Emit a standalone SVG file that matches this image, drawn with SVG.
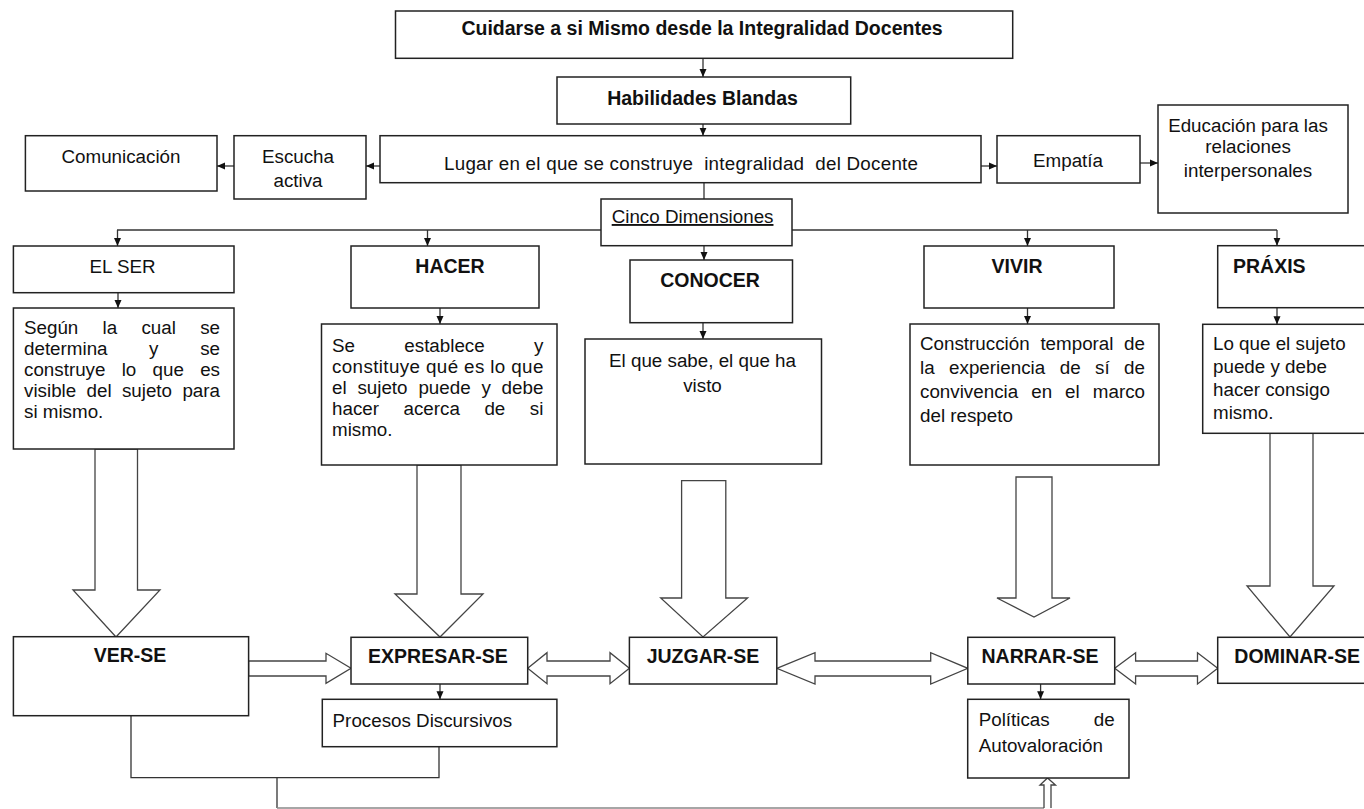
<svg xmlns="http://www.w3.org/2000/svg" width="1364" height="809" viewBox="0 0 1364 809">
<style>
.box{fill:#fff;stroke:#222;stroke-width:1.5}
.t{font-family:"Liberation Sans",Arial,sans-serif;font-size:18.8px;fill:#111}
.b{font-family:"Liberation Sans",Arial,sans-serif;font-size:19.5px;font-weight:bold;fill:#111}
.m{text-anchor:middle}
.e{text-anchor:end}
.ln{fill:none;stroke:#333;stroke-width:1.3}
.ar{fill:none;stroke:#333;stroke-width:1.3;marker-end:url(#ah)}
.blk{fill:#fff;stroke:#444;stroke-width:1.3;stroke-linejoin:miter}
</style>
<defs>
<marker id="ah" markerWidth="8" markerHeight="8" refX="8" refY="4" orient="auto" markerUnits="userSpaceOnUse">
<path d="M0,0.5 L8,4 L0,7.5 Z" fill="#111"/>
</marker>
</defs>
<rect width="1364" height="809" fill="#fff"/>

<g id="connectors">
<line class="ar" x1="703" y1="58.3" x2="703" y2="77"/>
<line class="ar" x1="703" y1="124" x2="703" y2="135.7"/>
<line class="ar" x1="380" y1="166" x2="366" y2="166"/>
<line class="ar" x1="234" y1="166" x2="217" y2="166"/>
<line class="ar" x1="981" y1="166" x2="997" y2="166"/>
<line class="ar" x1="1140" y1="163" x2="1158" y2="163"/>
<line class="ln" x1="704" y1="182.7" x2="704" y2="199"/>
<line class="ln" x1="117" y1="230" x2="1277" y2="230"/>
<line class="ar" x1="117.5" y1="230" x2="117.5" y2="246"/>
<line class="ar" x1="427.5" y1="230" x2="427.5" y2="246"/>
<line class="ar" x1="1027.5" y1="230" x2="1027.5" y2="246"/>
<line class="ar" x1="1277" y1="230" x2="1277" y2="245.7"/>
<line class="ar" x1="704" y1="245.7" x2="704" y2="260"/>
<line class="ar" x1="118" y1="292.7" x2="118" y2="308"/>
<line class="ar" x1="440" y1="308" x2="440" y2="324"/>
<line class="ar" x1="703" y1="322.7" x2="703" y2="339"/>
<line class="ar" x1="1027.5" y1="308" x2="1027.5" y2="324"/>
<line class="ar" x1="1277" y1="307.7" x2="1277" y2="324.3"/>
<line class="ar" x1="440" y1="684" x2="440" y2="699.3"/>
<line class="ar" x1="1040.6" y1="684" x2="1040.6" y2="699.3"/>
<polyline class="ln" points="131,715.7 131,777.7 439,777.7 439,746.7"/>
<line class="ln" x1="277" y1="777.7" x2="277" y2="808"/>
<line x1="277" y1="808" x2="1044" y2="808" stroke="#888" stroke-width="1.3"/>
<path class="blk" d="M95,449 V590 H73 L116,637 L160,590 H137.5 V449 Z"/>
<path class="blk" d="M417,465 V594 H395 L440,637 L483,594 H461 V465 Z"/>
<path class="blk" d="M681.6,480.7 V598 H660.7 L703,637 L747.6,598 H725.8 V480.7 Z"/>
<path class="blk" d="M1016,477 V598 H997 L1034,617 L1070,598 H1052 V477 Z"/>
<path class="blk" d="M1270,433.3 V586 H1247 L1290,637 L1334,586 H1313 V433.3 Z"/>
<path class="blk" d="M248.6,661 H326 V653.3 L351,668.3 L326,683.3 V676 H248.6 Z"/>
<path class="blk" d="M527.7,668.3 L547,652.7 V661 H610 V652.7 L629.4,668.3 L610,683.7 V676 H547 V683.7 Z"/>
<path class="blk" d="M776.8,668.3 L815,652.7 V661 H930.7 V652.7 L967.8,668.3 L930.7,684 V676 H815 V684 Z"/>
<path class="blk" d="M1114.7,668.3 L1135.6,652.7 V661 H1197.5 V652.7 L1217.7,668.3 L1197.5,684 V676 H1135.6 V684 Z"/>
<path class="blk" d="M1044,808 V785 H1040 L1047.5,778 L1055.5,785 H1051 V808"/>
</g>

<g id="title">
<rect class="box" x="395.5" y="11" width="617.2" height="47.3"/>
<text class="b m" x="702" y="35">Cuidarse a si Mismo desde la Integralidad Docentes</text>
</g>
<g id="habilidades">
<rect class="box" x="557" y="77" width="293.7" height="47"/>
<text class="b m" x="702.5" y="104.5">Habilidades Blandas</text>
</g>
<g id="lugar">
<rect class="box" x="380" y="135.7" width="601" height="47"/>
<text class="t" x="444" y="170" textLength="474" lengthAdjust="spacing" style="white-space:pre">Lugar en el que se construye  integralidad  del Docente</text>
</g>
<g id="escucha">
<rect class="box" x="234" y="135.7" width="132" height="63.3"/>
<text class="t m" x="298" y="163">Escucha</text>
<text class="t m" x="298" y="187">activa</text>
</g>
<g id="comunicacion">
<rect class="box" x="25.4" y="135.7" width="191.6" height="55.3"/>
<text class="t m" x="121" y="163">Comunicación</text>
</g>
<g id="empatia">
<rect class="box" x="997" y="135.7" width="143" height="47.3"/>
<text class="t m" x="1068" y="166.7">Empatía</text>
</g>
<g id="educacion">
<rect class="box" x="1158" y="105" width="190" height="108"/>
<text class="t m" x="1248" y="131.7">Educación para las</text>
<text class="t m" x="1248" y="153">relaciones</text>
<text class="t m" x="1248" y="176.7">interpersonales</text>
</g>
<g id="cinco">
<rect class="box" x="601" y="199" width="191" height="46.7"/>
<text class="t" x="611.7" y="223" text-decoration="underline">Cinco Dimensiones</text>
</g>

<g id="elser">
<rect class="box" x="13.4" y="246" width="220.6" height="46.7"/>
<text class="t m" x="122.5" y="273.3">EL SER</text>
</g>
<g id="segun">
<rect class="box" x="13.4" y="308" width="220.6" height="141"/>
<text class="t" x="24" y="334">Según</text><text class="t" x="102.6" y="334">la</text><text class="t" x="141.4" y="334">cual</text><text class="t e" x="220" y="334">se</text>
<text class="t" x="24" y="355">determina</text><text class="t" x="149.1" y="355">y</text><text class="t e" x="220" y="355">se</text>
<text class="t" x="24" y="376">construye</text><text class="t" x="121.7" y="376">lo</text><text class="t" x="152.5" y="376">que</text><text class="t e" x="220" y="376">es</text>
<text class="t" x="24" y="397">visible</text><text class="t" x="86.5" y="397">del</text><text class="t" x="121.9" y="397">sujeto</text><text class="t e" x="220" y="397">para</text>
<text class="t" x="24" y="418">si mismo.</text>
</g>

<g id="hacer">
<rect class="box" x="351" y="246" width="188" height="62"/>
<text class="b m" x="450" y="273.3">HACER</text>
</g>
<g id="establece">
<rect class="box" x="321.5" y="324" width="235.5" height="141"/>
<text class="t" x="332" y="352.3">Se</text><text class="t" x="404.3" y="352.3">establece</text><text class="t e" x="543.4" y="352.3">y</text>
<text class="t" x="332" y="373" textLength="211.4" lengthAdjust="spacing">constituye qué es lo que</text>
<text class="t" x="332" y="394">el</text><text class="t" x="357.4" y="394">sujeto</text><text class="t" x="418.4" y="394">puede</text><text class="t" x="481.5" y="394">y</text><text class="t e" x="543.4" y="394">debe</text>
<text class="t" x="332" y="415">hacer</text><text class="t" x="403.5" y="415">acerca</text><text class="t" x="484.4" y="415">de</text><text class="t e" x="543.4" y="415">si</text>
<text class="t" x="332" y="436">mismo.</text>
</g>

<g id="conocer">
<rect class="box" x="630" y="260" width="162.5" height="62.7"/>
<text class="b m" x="710" y="286.7">CONOCER</text>
</g>
<g id="elque">
<rect class="box" x="585" y="339" width="236.5" height="125"/>
<text class="t m" x="702.5" y="366.7">El que sabe, el que ha</text>
<text class="t m" x="702.5" y="391.7">visto</text>
</g>

<g id="vivir">
<rect class="box" x="924" y="246" width="190" height="62"/>
<text class="b m" x="1017" y="272.7">VIVIR</text>
</g>
<g id="construccion">
<rect class="box" x="910" y="324" width="249" height="141"/>
<text class="t" x="920" y="350">Construcción</text><text class="t" x="1040.4" y="350">temporal</text><text class="t e" x="1145" y="350">de</text>
<text class="t" x="920" y="374">la</text><text class="t" x="949.1" y="374">experiencia</text><text class="t" x="1059.7" y="374">de</text><text class="t" x="1095.1" y="374">sí</text><text class="t e" x="1145" y="374">de</text>
<text class="t" x="920" y="398">convivencia</text><text class="t" x="1031.2" y="398">en</text><text class="t" x="1065.1" y="398">el</text><text class="t e" x="1145" y="398">marco</text>
<text class="t" x="920" y="422">del respeto</text>
</g>

<g id="praxis">
<rect class="box" x="1217.7" y="245.7" width="160" height="62"/>
<text class="b" x="1233" y="272.7">PRÁXIS</text>
</g>
<g id="loque">
<rect class="box" x="1202.7" y="324.3" width="175" height="109"/>
<text class="t" x="1213" y="350">Lo que el sujeto</text>
<text class="t" x="1213" y="373">puede y debe</text>
<text class="t" x="1213" y="396">hacer consigo</text>
<text class="t" x="1213" y="419">mismo.</text>
</g>

<g id="verse">
<rect class="box" x="13.4" y="636.7" width="235.2" height="79"/>
<text class="b m" x="130" y="662.3">VER-SE</text>
</g>
<g id="expresarse">
<rect class="box" x="351" y="637.3" width="176.7" height="46.7"/>
<text class="b m" x="438" y="663.3">EXPRESAR-SE</text>
</g>
<g id="procesos">
<rect class="box" x="322.3" y="699.3" width="234.6" height="47.4"/>
<text class="t" x="332.6" y="726.7">Procesos Discursivos</text>
</g>
<g id="juzgarse">
<rect class="box" x="629.4" y="637.3" width="147.4" height="46.7"/>
<text class="b m" x="703" y="663.3">JUZGAR-SE</text>
</g>
<g id="narrarse">
<rect class="box" x="967.8" y="637.3" width="146.9" height="46.7"/>
<text class="b m" x="1040" y="663.3">NARRAR-SE</text>
</g>
<g id="politicas">
<rect class="box" x="967.7" y="699.3" width="161.3" height="78.7"/>
<text class="t" x="978.7" y="726">Políticas</text><text class="t e" x="1114.7" y="726">de</text>
<text class="t" x="978.7" y="751.7">Autovaloración</text>
</g>
<g id="dominarse">
<rect class="box" x="1217.7" y="637.3" width="160" height="46"/>
<text class="b" x="1234.3" y="663.3">DOMINAR-SE</text>
</g>
</svg>
